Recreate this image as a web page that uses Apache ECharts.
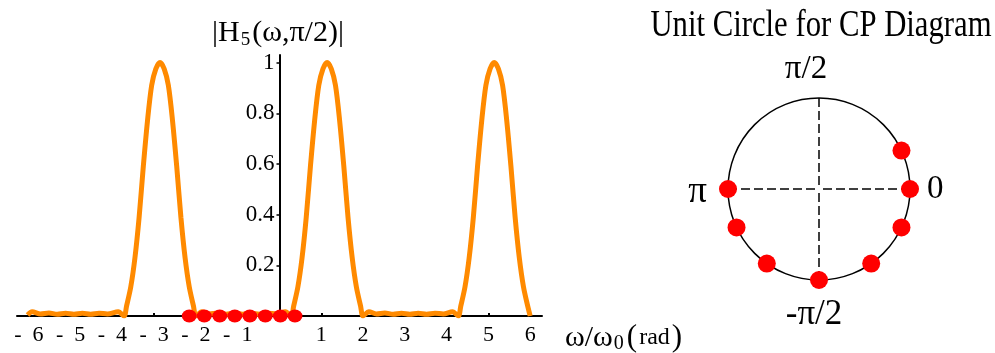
<!DOCTYPE html>
<html>
<head>
<meta charset="utf-8">
<script src="https://cdn.jsdelivr.net/npm/echarts@6/dist/echarts.min.js"></script>
<style>
  html, body { margin: 0; padding: 0; background: #fff; }
  #chart { width: 995px; height: 353px; }
</style>
</head>
<body>
<div id="chart"></div>
<script>
// |H5(ω, π/2)| sampled along ω/ω0 (rad)
const omega = [
  -6.03, -5.92, -5.72, -5.52, -5.32, -5.12, -4.92, -4.72, -4.52, -4.32, -4.12, -3.86,
  -3.72, -3.66, -3.56, -3.46, -3.36, -3.26, -3.16, -3.06, -2.96, -2.86,
  -2.76, -2.66, -2.56, -2.46, -2.36, -2.26, -2.16, -2.06, -2.00,
  -1.86, -1.68, -1.48, -1.28, -1.08, -0.88, -0.68, -0.48, -0.28, -0.08, 0.14,
  0.28, 0.34, 0.44, 0.54, 0.64, 0.74, 0.84, 0.94, 1.04, 1.14,
  1.24, 1.34, 1.44, 1.54, 1.64, 1.74, 1.84, 1.94, 2.00,
  2.14, 2.32, 2.52, 2.72, 2.92, 3.12, 3.32, 3.52, 3.72, 3.92, 4.14,
  4.28, 4.34, 4.44, 4.54, 4.64, 4.74, 4.84, 4.94, 5.04, 5.14,
  5.24, 5.34, 5.44, 5.54, 5.64, 5.74, 5.84, 5.94, 6.00
];
const magnitude = [
  0.004, 0.017, 0.008, 0.012, 0.007, 0.011, 0.007, 0.011, 0.007, 0.011, 0.008, 0.017,
  0.0, 0.04, 0.115, 0.23, 0.39, 0.59, 0.77, 0.91, 0.975, 1.0,
  0.975, 0.91, 0.77, 0.59, 0.39, 0.23, 0.115, 0.04, 0.0,
  0.017, 0.008, 0.012, 0.007, 0.011, 0.007, 0.011, 0.007, 0.011, 0.008, 0.017,
  0.0, 0.04, 0.115, 0.23, 0.39, 0.59, 0.77, 0.91, 0.975, 1.0,
  0.975, 0.91, 0.77, 0.59, 0.39, 0.23, 0.115, 0.04, 0.0,
  0.017, 0.008, 0.012, 0.007, 0.011, 0.007, 0.011, 0.007, 0.011, 0.008, 0.017,
  0.0, 0.04, 0.115, 0.23, 0.39, 0.59, 0.77, 0.91, 0.975, 1.0,
  0.975, 0.91, 0.77, 0.59, 0.39, 0.23, 0.115, 0.04, 0.0
];

// element phases marked along the ω axis
const markedOmega = [-2.16, -1.80, -1.43, -1.07, -0.71, -0.34, 0.02, 0.37];
// the same phases as points on the unit circle (degrees)
const circleAngles = [25, 0, 335, 305, 270, 235, 205, 180];

const xTickValues = [-6, -5, -4, -3, -2, -1, 1, 2, 3, 4, 5, 6];
const yTickValues = [0.2, 0.4, 0.6, 0.8, 1];
const circleLabels = { 0: '{r|0}', 90: '{t|π/2}', 180: '{l|π}', 270: '{b|-π/2}' };

const SERIF = '"Liberation Serif", "DejaVu Serif", serif';
const ORANGE = '#ff8a00';

// plot area of the magnitude panel
const GRID = { left: 17, right: 453, top: 55, bottom: 37 };
const X_MIN = -2 * Math.PI, X_MAX = 2 * Math.PI;
const CHART_W = 995;
// the |H| axis sits at ω = 0, so shift it in from the left edge of the plot
const plotW = CHART_W - GRID.left - GRID.right;
const yAxisShift = (0 - X_MIN) / (X_MAX - X_MIN) * plotW;

const chart = echarts.init(document.getElementById('chart'), null, { renderer: 'canvas' });

chart.setOption({
  animation: false,
  backgroundColor: '#fff',
  title: {
    text: '{a||H}{s|5}{a|(ω,π/2)|}',
    left: 273,
    top: 12,
    textAlign: 'center',
    textStyle: {
      fontWeight: 'normal',
      rich: {
        a: { fontFamily: SERIF, fontSize: 30, fontWeight: 'normal', color: '#000', lineHeight: 33 },
        s: { fontFamily: SERIF, fontSize: 19, fontWeight: 'normal', color: '#000', verticalAlign: 'bottom', lineHeight: 19, padding: [0, 2, 0, 1] }
      }
    }
  },
  grid: Object.assign({ outerBoundsMode: 'none', containLabel: false }, GRID),
  xAxis: {
    type: 'value',
    min: X_MIN,
    max: X_MAX,
    name: '{a|ω/ω}{s|0}{p|(}{r|rad}{p|)}',
    nameLocation: 'end',
    nameGap: 23,
    nameTextStyle: {
      verticalAlign: 'top',
      padding: [6, 0, 0, 0],
      rich: {
        a: { fontFamily: SERIF, fontSize: 30, color: '#000', lineHeight: 32 },
        s: { fontFamily: SERIF, fontSize: 20, color: '#000', verticalAlign: 'bottom', lineHeight: 18, padding: [0, 3, 0, 1] },
        p: { fontFamily: SERIF, fontSize: 31, color: '#000', lineHeight: 32 },
        r: { fontFamily: SERIF, fontSize: 24, color: '#000', lineHeight: 32, padding: [0, 2, 0, 2] }
      }
    },
    axisLine: { onZero: true, lineStyle: { color: '#000', width: 2 } },
    axisTick: { show: true, inside: true, length: 3, customValues: xTickValues, lineStyle: { color: '#000', width: 2 } },
    axisLabel: {
      customValues: xTickValues,
      margin: 8,
      fontFamily: SERIF,
      fontSize: 22,
      color: '#000',
      formatter: v => (v < 0 ? '-  ' + (-v) : String(v))
    },
    splitLine: { show: false }
  },
  yAxis: {
    type: 'value',
    min: 0,
    max: 1.03,
    position: 'left',
    offset: -yAxisShift,
    axisLine: { onZero: false, lineStyle: { color: '#000', width: 2 } },
    axisTick: { show: true, inside: false, length: 3, customValues: yTickValues, lineStyle: { color: '#000', width: 1.5 } },
    axisLabel: {
      customValues: yTickValues,
      margin: 5,
      fontFamily: SERIF,
      fontSize: 23,
      color: '#000'
    },
    splitLine: { show: false }
  },
  polar: { center: [819, 189], radius: 91 },
  angleAxis: {
    type: 'value',
    min: 0,
    max: 360,
    interval: 90,
    startAngle: 0,
    clockwise: false,
    axisLine: { show: true, lineStyle: { color: '#000', width: 1.5 } },
    axisTick: { show: false },
    splitLine: { show: true, lineStyle: { color: '#000', width: 1.5, type: [9, 4] } },
    axisLabel: {
      margin: 12,
      formatter: v => circleLabels[v] || '',
      rich: {
        r: { fontFamily: SERIF, fontSize: 33, color: '#000', padding: [0, 0, 0, 5] },
        t: { fontFamily: SERIF, fontSize: 33, color: '#000', padding: [0, 26, 0, 0] },
        l: { fontFamily: SERIF, fontSize: 37, color: '#000', padding: [6, 9, 0, 0] },
        b: { fontFamily: SERIF, fontSize: 35, color: '#000', padding: [5, 10, 0, 0] }
      }
    }
  },
  radiusAxis: {
    type: 'value',
    min: 0,
    max: 1,
    axisLine: { show: false },
    axisTick: { show: false },
    axisLabel: { show: false },
    splitLine: { show: false }
  },
  graphic: [
    {
      type: 'text',
      x: 821,
      y: 26,
      scaleX: 0.83,
      style: {
        text: 'Unit Circle for CP Diagram',
        font: '37px ' + SERIF,
        fill: '#000',
        textAlign: 'center',
        textVerticalAlign: 'middle'
      }
    }
  ],
  series: [
    {
      type: 'line',
      xAxisIndex: 0,
      yAxisIndex: 0,
      data: omega.map((w, i) => [w, magnitude[i]]),
      smooth: 0.3,
      showSymbol: false,
      symbol: 'none',
      lineStyle: { color: ORANGE, width: 5 },
      z: 3
    },
    {
      type: 'scatter',
      xAxisIndex: 0,
      yAxisIndex: 0,
      data: markedOmega.map(w => [w, 0]),
      symbol: 'circle',
      symbolSize: [15, 13],
      itemStyle: { color: '#ff0000', opacity: 1 },
      z: 5
    },
    {
      type: 'scatter',
      coordinateSystem: 'polar',
      data: circleAngles.map(a => [1, a]),
      symbol: 'circle',
      symbolSize: 18,
      itemStyle: { color: '#ff0000', opacity: 1 },
      z: 5
    }
  ]
});
</script>
</body>
</html>
